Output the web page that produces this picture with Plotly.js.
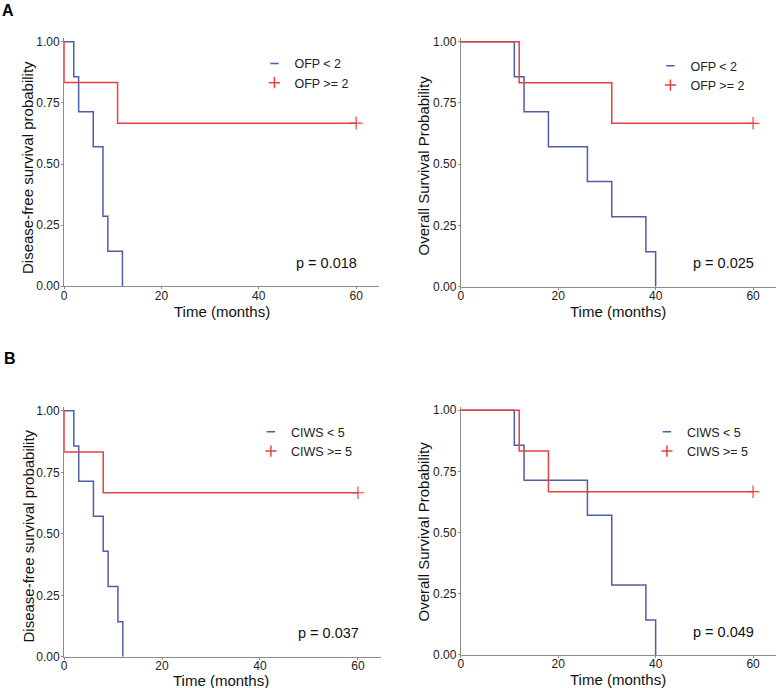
<!DOCTYPE html>
<html>
<head>
<meta charset="utf-8">
<script src="https://cdn.plot.ly/plotly-3.0.1.min.js"></script>
<style>html,body{margin:0;padding:0;background:#fff;}#chart{width:778px;height:688px;}</style>
</head>
<body>
<div id="chart"></div>
<script>
// ---- data (Kaplan-Meier steps) ----
var xTicks = [0, 20, 40, 60];
var yTicks = [0, 0.25, 0.5, 0.75, 1];

// Panel A left: disease-free survival by OFP
var aDfsLowTime = [0, 2, 3, 6, 8, 9, 12];
var aDfsLowSurv = [1, 0.857, 0.714, 0.571, 0.286, 0.143, 0];
var aDfsHighTime = [0, 0, 11, 60];
var aDfsHighSurv = [1, 0.833, 0.667, 0.667];
// Panel A right: overall survival by OFP
var aOsLowTime = [0, 11, 13, 18, 26, 31, 38, 40];
var aOsLowSurv = [1, 0.857, 0.714, 0.571, 0.429, 0.286, 0.143, 0];
var aOsHighTime = [0, 12, 31, 60];
var aOsHighSurv = [1, 0.833, 0.667, 0.667];
// Panel B left: disease-free survival by CIWS
var bDfsLowTime = [0, 2, 3, 6, 8, 9, 11, 12];
var bDfsLowSurv = [1, 0.857, 0.714, 0.571, 0.429, 0.286, 0.143, 0];
var bDfsHighTime = [0, 0, 8, 60];
var bDfsHighSurv = [1, 0.833, 0.667, 0.667];
// Panel B right: overall survival by CIWS
var bOsLowTime = [0, 11, 13, 26, 31, 38, 40];
var bOsLowSurv = [1, 0.857, 0.714, 0.571, 0.286, 0.143, 0];
var bOsHighTime = [0, 12, 18, 60];
var bOsHighSurv = [1, 0.833, 0.667, 0.667];

// censored observations (red group)
var censorTime = [60];
var aDfsCensor = [0.667];
var aOsCensor = [0.667];
var bDfsCensor = [0.667];
var bOsCensor = [0.667];

var pValues = ['p = 0.018', 'p = 0.025', 'p = 0.037', 'p = 0.049'];
var groupNames = [['OFP < 2', 'OFP >= 2'], ['OFP < 2', 'OFP >= 2'], ['CIWS < 5', 'CIWS >= 5'], ['CIWS < 5', 'CIWS >= 5']];
var xTitle = 'Time (months)';
var yTitles = ['Disease-free survival probability', 'Overall Survival Probability', 'Disease-free survival probability', 'Overall Survival Probability'];
var panelLetters = ['A', 'B'];

// ---- styling ----
var BLUE = '#4f5cab';
var RED = '#e8403f';
var AXC = '#8c8c8c';
var FONT = 'Liberation Sans, Arial, Helvetica, sans-serif';
var W = 778, H = 688;

var panels = [
  {low: [aDfsLowTime, aDfsLowSurv], high: [aDfsHighTime, aDfsHighSurv], cens: aDfsCensor},
  {low: [aOsLowTime, aOsLowSurv], high: [aOsHighTime, aOsHighSurv], cens: aOsCensor},
  {low: [bDfsLowTime, bDfsLowSurv], high: [bDfsHighTime, bDfsHighSurv], cens: bDfsCensor},
  {low: [bOsLowTime, bOsLowSurv], high: [bOsHighTime, bOsHighSurv], cens: bOsCensor}
];

var xDomains = [[0.0823, 0.4872], [0.5922, 0.9974], [0.0823, 0.4897], [0.5922, 0.9974]];
var yDomains = [[0.5839, 0.9443], [0.5833, 0.9443], [0.0453, 0.4079], [0.0480, 0.4088]];
var legendPos = [[0.327, 0.8935], [0.836, 0.890], [0.3225, 0.358], [0.8315, 0.358]];
// axis title centres in pixels [x-title x, x-title y, y-title x, y-title y]
var titlePx = [[221.5, 311, 27, 168], [618, 312, 422.5, 166], [221, 680, 27.5, 536], [618.3, 679.5, 422.5, 532]];

var traces = [];
var layout = {
  width: W, height: H,
  margin: {l: 0, r: 0, t: 0, b: 0},
  paper_bgcolor: '#ffffff', plot_bgcolor: '#ffffff',
  font: {family: FONT, size: 12, color: '#222'},
  showlegend: true,
  annotations: []
};

panels.forEach(function (p, i) {
  var n = i + 1;
  var xa = 'x' + (n === 1 ? '' : n), ya = 'y' + (n === 1 ? '' : n);
  var lg = 'legend' + (n === 1 ? '' : n);
  traces.push({x: p.low[0], y: p.low[1], xaxis: xa, yaxis: ya, mode: 'lines',
    line: {color: BLUE, width: 1.5, shape: 'hv'}, showlegend: false, hoverinfo: 'skip'});
  traces.push({x: p.high[0], y: p.high[1], xaxis: xa, yaxis: ya, mode: 'lines',
    line: {color: RED, width: 1.5, shape: 'hv'}, showlegend: false, hoverinfo: 'skip'});
  traces.push({x: censorTime, y: p.cens, xaxis: xa, yaxis: ya, mode: 'markers',
    marker: {symbol: 'cross-thin-open', size: 9, color: RED, line: {color: RED, width: 1.2}},
    showlegend: false, hoverinfo: 'skip'});
  // legend entries
  traces.push({x: [null], y: [null], xaxis: xa, yaxis: ya, mode: 'markers', name: groupNames[i][0],
    legend: lg, marker: {symbol: 'line-ew-open', size: 6, color: BLUE, line: {color: BLUE, width: 1.5}}});
  traces.push({x: [null], y: [null], xaxis: xa, yaxis: ya, mode: 'markers', name: groupNames[i][1],
    legend: lg, marker: {symbol: 'cross-thin-open', size: 8, color: RED, line: {color: RED, width: 1.5}}});

  var xk = 'xaxis' + (n === 1 ? '' : n), yk = 'yaxis' + (n === 1 ? '' : n);
  layout[xk] = {
    domain: xDomains[i], anchor: ya, range: [0, 64.7],
    tickvals: xTicks, ticktext: xTicks.map(String),
    showline: true, linecolor: AXC, linewidth: 1, mirror: false,
    ticks: 'outside', ticklen: 2, tickcolor: AXC, tickwidth: 1, ticklabelstandoff: -4,
    showgrid: false, zeroline: false,
    tickfont: {family: FONT, size: 12, color: '#222'},
    automargin: false, fixedrange: true
  };
  layout[yk] = {
    domain: yDomains[i], anchor: xa, range: [0, 1.014],
    tickvals: yTicks, ticktext: yTicks.map(function (v) { return v.toFixed(2); }),
    showline: true, linecolor: AXC, linewidth: 1,
    ticks: 'outside', ticklen: 2, tickcolor: AXC, tickwidth: 1, ticklabelstandoff: -1,
    showgrid: false, zeroline: false,
    tickfont: {family: FONT, size: 12, color: '#222'},
    automargin: false, fixedrange: true
  };
  layout[lg] = {
    x: legendPos[i][0], y: legendPos[i][1], xanchor: 'left', yanchor: 'middle',
    bgcolor: 'rgba(0,0,0,0)', borderwidth: 0, itemwidth: 30,
    font: {family: FONT, size: 12.5, color: '#222'}, tracegroupgap: 0
  };
  layout.annotations.push({
    xref: xa, yref: ya, x: 54, y: 0.095, text: pValues[i], showarrow: false,
    xanchor: 'center', yanchor: 'middle', font: {family: FONT, size: 14.5, color: '#111'}
  });
  var t = titlePx[i];
  layout.annotations.push({
    xref: 'paper', yref: 'paper', x: t[0] / W, y: 1 - t[1] / H, text: xTitle, showarrow: false,
    xanchor: 'center', yanchor: 'middle', font: {family: FONT, size: 15, color: '#111'}
  });
  layout.annotations.push({
    xref: 'paper', yref: 'paper', x: t[2] / W, y: 1 - t[3] / H, text: yTitles[i], showarrow: false,
    textangle: -90, xanchor: 'center', yanchor: 'middle', font: {family: FONT, size: 15, color: '#111'}
  });
});

layout.annotations.push({xref: 'paper', yref: 'paper', x: 0.0, y: 1 - 10 / H, text: '<b>' + panelLetters[0] + '</b>',
  showarrow: false, xanchor: 'left', yanchor: 'middle', font: {family: FONT, size: 16, color: '#000'}});
layout.annotations.push({xref: 'paper', yref: 'paper', x: 0.003, y: 1 - 358 / H, text: '<b>' + panelLetters[1] + '</b>',
  showarrow: false, xanchor: 'left', yanchor: 'middle', font: {family: FONT, size: 16, color: '#000'}});

Plotly.newPlot('chart', traces, layout, {displayModeBar: false, staticPlot: true});
</script>
</body>
</html>
